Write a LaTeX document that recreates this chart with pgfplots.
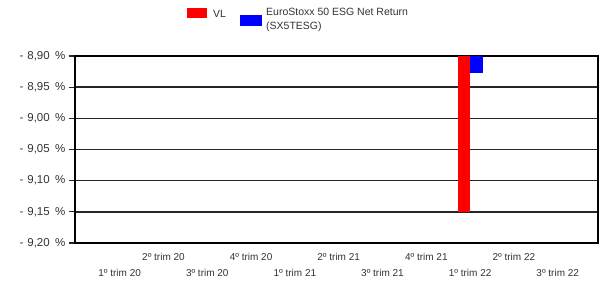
\documentclass[border=0pt]{standalone}
\usepackage{pgfplots}
\pgfplotsset{compat=1.18}
\usepackage{fontspec}
\setmainfont{Liberation Sans}
\newcommand{\yl}[1]{-\hspace{4bp}#1\hspace{5.5bp}\%}
\begin{document}
\begin{tikzpicture}[x=1bp,y=1bp]
\begin{axis}[
  at={(0,0)}, anchor=south west,
  scale only axis, width=523bp, height=187bp,
  xmin=-1.02, xmax=10.92, ymin=-9.20, ymax=-8.90,
  axis line style={black, line width=1.5bp},
  ytick={-9.20,-9.15,-9.10,-9.05,-9.00,-8.95,-8.90},
  yticklabels={{\yl{9,20}},{\yl{9,15}},{\yl{9,10}},{\yl{9,05}},{\yl{9,00}},{\yl{8,95}},{\yl{8,90}}},
  ymajorgrids, major grid style={black!85, line width=1.6bp},
  ytick pos=left, tick align=outside, major tick length=6bp,
  y tick style={black!85, line width=1.2bp},
  yticklabel style={font=\fontsize{11.5bp}{13bp}\selectfont, text=black!80},
  xtick={0,...,10},
  x tick style={draw=none},
  xticklabels={
    {\strut\\\strut 1º trim 20},{\strut 2º trim 20\\\strut},
    {\strut\\\strut 3º trim 20},{\strut 4º trim 20\\\strut},
    {\strut\\\strut 1º trim 21},{\strut 2º trim 21\\\strut},
    {\strut\\\strut 3º trim 21},{\strut 4º trim 21\\\strut},
    {\strut\\\strut 1º trim 22},{\strut 2º trim 22\\\strut},
    {\strut\\\strut 3º trim 22}},
  xticklabel style={font=\fontsize{10bp}{16bp}\selectfont, align=center, yshift=3bp, text=black!80},
  ybar=0pt, bar width=12.5bp,
]
\addplot[fill=red, draw=none] coordinates {(8,-9.15)};
\addplot[fill=blue, draw=none] coordinates {(8,-8.928)};
\end{axis}
% legend
\fill[red] (112,225) rectangle (132,235);
\node[anchor=west, inner sep=0pt, font=\fontsize{10.5bp}{14bp}\selectfont, text=black!80] at (138,229) {VL};
\fill[blue] (165,217) rectangle (187,228);
\node[anchor=west, inner sep=0pt, align=left, font=\fontsize{10.5bp}{14bp}\selectfont, text=black!80] at (191,223.5) {EuroStoxx 50 ESG Net Return\\(SX5TESG)};
\pgfresetboundingbox
\path (-75,-39) rectangle (527,243);
\end{tikzpicture}
\end{document}
